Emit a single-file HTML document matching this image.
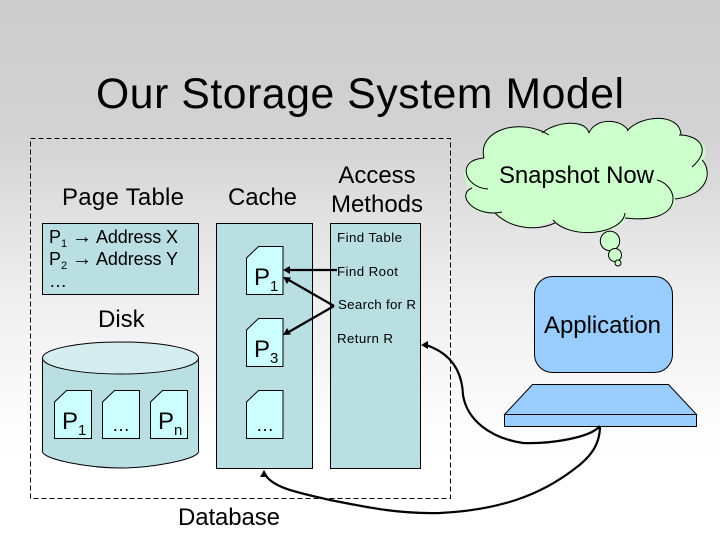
<!DOCTYPE html>
<html>
<head>
<meta charset="utf-8">
<style>
html,body{margin:0;padding:0;width:720px;height:540px;overflow:hidden;background:#fff}
svg{display:block}
text{font-family:"Liberation Sans",sans-serif;fill:#000}
</style>
</head>
<body>
<svg xmlns="http://www.w3.org/2000/svg" width="720" height="540" viewBox="0 0 720 540">
<defs>
<linearGradient id="bg" gradientUnits="userSpaceOnUse" x1="0" y1="0" x2="0" y2="540">
<stop offset="0" stop-color="#cccccc"/>
<stop offset="0.25" stop-color="#d3d3d3"/>
<stop offset="0.54" stop-color="#eeeeee"/>
<stop offset="0.74" stop-color="#fafafa"/>
<stop offset="0.85" stop-color="#ffffff"/>
<stop offset="1" stop-color="#ffffff"/>
</linearGradient>
</defs>
<rect width="720" height="540" fill="url(#bg)"/>

<text x="96" y="108" font-size="42.67" textLength="528" lengthAdjust="spacing">Our Storage System Model</text>

<rect x="30.5" y="138.5" width="420" height="360" fill="none" stroke="#000" stroke-dasharray="5 3"/>

<text x="62" y="205" font-size="24" textLength="122" lengthAdjust="spacing">Page Table</text>
<text x="228" y="205" font-size="24" textLength="69" lengthAdjust="spacing">Cache</text>
<text x="377" y="183" font-size="24" text-anchor="middle">Access</text>
<text x="377" y="212" font-size="24" text-anchor="middle">Methods</text>

<rect x="42.5" y="223.5" width="156" height="71" fill="#b9dfe3" stroke="#000"/>
<text x="49" y="243" font-size="18">P</text><text x="61" y="247" font-size="11">1</text>
<text x="72" y="243" font-size="20">→</text>
<text x="96" y="243" font-size="18" textLength="82" lengthAdjust="spacing">Address X</text>
<text x="49" y="265" font-size="18">P</text><text x="61" y="269" font-size="11">2</text>
<text x="72" y="265" font-size="20">→</text>
<text x="96" y="265" font-size="18" textLength="82" lengthAdjust="spacing">Address Y</text>
<text x="49" y="287" font-size="18">…</text>

<text x="98" y="327" font-size="24">Disk</text>

<!-- Disk cylinder -->
<path d="M42.5,358 V452 C45,460 90,468 120.5,468 C150,468 196,460 198.5,452 V358 Z" fill="#b9dfe3" stroke="#000"/>
<ellipse cx="120.5" cy="358" rx="78" ry="16" fill="#d6edf0" stroke="#000"/>

<g fill="#ccffff" stroke="#000">
<path d="M66.5,390.5 H91.5 V438.5 H54.5 V402 Z"/>
<path d="M114.5,390.5 H139.5 V438.5 H102.5 V402 Z"/>
<path d="M162.5,390.5 H187.5 V438.5 H150.5 V402 Z"/>
</g>
<text x="62" y="429" font-size="24">P</text><text x="78" y="435" font-size="15">1</text>
<text x="112" y="431" font-size="18">…</text>
<text x="158" y="429" font-size="24">P</text><text x="174" y="435" font-size="15">n</text>

<!-- Cache -->
<rect x="216.5" y="223.5" width="96" height="245" fill="#b9dfe3" stroke="#000"/>
<g fill="#ccffff" stroke="#000">
<path d="M258.5,246.5 H283 V294.5 H246.5 V258 Z"/>
<path d="M258.5,318.5 H283 V366.5 H246.5 V330 Z"/>
<path d="M258.5,390.5 H283 V438.5 H246.5 V402 Z"/>
</g>
<text x="254" y="285" font-size="24">P</text><text x="270" y="291" font-size="15">1</text>
<text x="254" y="357" font-size="24">P</text><text x="270" y="363" font-size="15">3</text>
<text x="256" y="431" font-size="18">…</text>

<!-- Access methods -->
<rect x="330.5" y="223.5" width="90" height="245" fill="#b9dfe3" stroke="#000"/>
<text x="337" y="242" font-size="13.33" textLength="65" lengthAdjust="spacing">Find Table</text>
<text x="337" y="276" font-size="13.33" textLength="61" lengthAdjust="spacing">Find Root</text>
<text x="338" y="309" font-size="13.33" textLength="78" lengthAdjust="spacing">Search for R</text>
<text x="337" y="343" font-size="13.33" textLength="56" lengthAdjust="spacing">Return R</text>

<!-- Arrows inside -->
<g stroke="#000" stroke-width="2.2" fill="none">
<path d="M337,270 H288"/>
<path d="M334,306 L287,279"/>
<path d="M334,306 L287,333"/>
</g>
<g fill="#000">
<path d="M283,270 L290,266 L290,274 Z"/>
<path d="M283,277 L291,277.5 L287,284 Z"/>
<path d="M283,335 L287,328 L291,334.5 Z"/>
<path d="M421,345 L428,341 L428,349 Z"/>
<path d="M264,470 L260,477 L268,477 Z"/>
</g>

<!-- Cloud -->
<path fill="#ccffcc" d="M484,158 C477,130 520,117 549,135 L542,133 C555,122 585,118 589,133 C595,118 620,118 628,130 C640,115 680,112 681,135 C700,135 712,150 702,160 C712,170 710,195 675,199 C676,210 660,222 625,218 C622,235 570,240 553,220 C535,232 510,228 495,213 C475,218 455,195 472,188 C465,188 455,160 484,158 Z"/>
<g fill="none" stroke="#000" stroke-width="1">
<path d="M484,158 C477,130 520,117 549,135"/>
<path d="M542,133 C555,122 585,118 589,133"/>
<path d="M589,133 C595,118 620,118 628,130"/>
<path d="M627,131 C640,115 680,112 681,135"/>
<path d="M679,135 C700,135 712,150 692,167"/>
<path d="M702,160 C712,170 710,195 675,199"/>
<path d="M657,180 C680,186 685,225 625,218"/>
<path d="M625,213 C622,235 570,240 553,220"/>
<path d="M555,223 C535,232 510,228 495,213"/>
<path d="M502,212 C475,218 455,195 472,188"/>
<path d="M488,189 C465,188 455,160 484,158"/>
</g>
<circle cx="610" cy="241" r="9.7" fill="#ccffcc" stroke="#000"/>
<circle cx="615" cy="255" r="6.5" fill="#ccffcc" stroke="#000"/>
<circle cx="618" cy="263" r="3" fill="#ccffcc" stroke="#000"/>
<text x="499" y="183" font-size="24" textLength="155" lengthAdjust="spacing">Snapshot Now</text>

<!-- Application -->
<rect x="534.5" y="276.5" width="138" height="96" rx="18" fill="#99ccff" stroke="#000"/>
<text x="544" y="333" font-size="24" textLength="117" lengthAdjust="spacing">Application</text>
<path d="M532.5,384.5 H668.5 L696.5,414.5 H504.5 Z" fill="#99ccff" stroke="#000"/>
<rect x="504.5" y="414.5" width="192" height="12" fill="#99ccff" stroke="#000"/>

<!-- Curved connectors -->
<g stroke="#000" stroke-width="2.2" fill="none">
<path d="M600,426 C590,438 550,444 523,443 C490,438 467,420 463,395 C462,370 450,353 426,345"/>
<path d="M600,426 C600,445 590,458 573,470 C540,495 500,510 440,513 C400,514 370,508 330,500 C300,493 272,488 265,474"/>
</g>

<text x="178" y="525" font-size="24" textLength="102" lengthAdjust="spacing">Database</text>
</svg>
</body>
</html>
